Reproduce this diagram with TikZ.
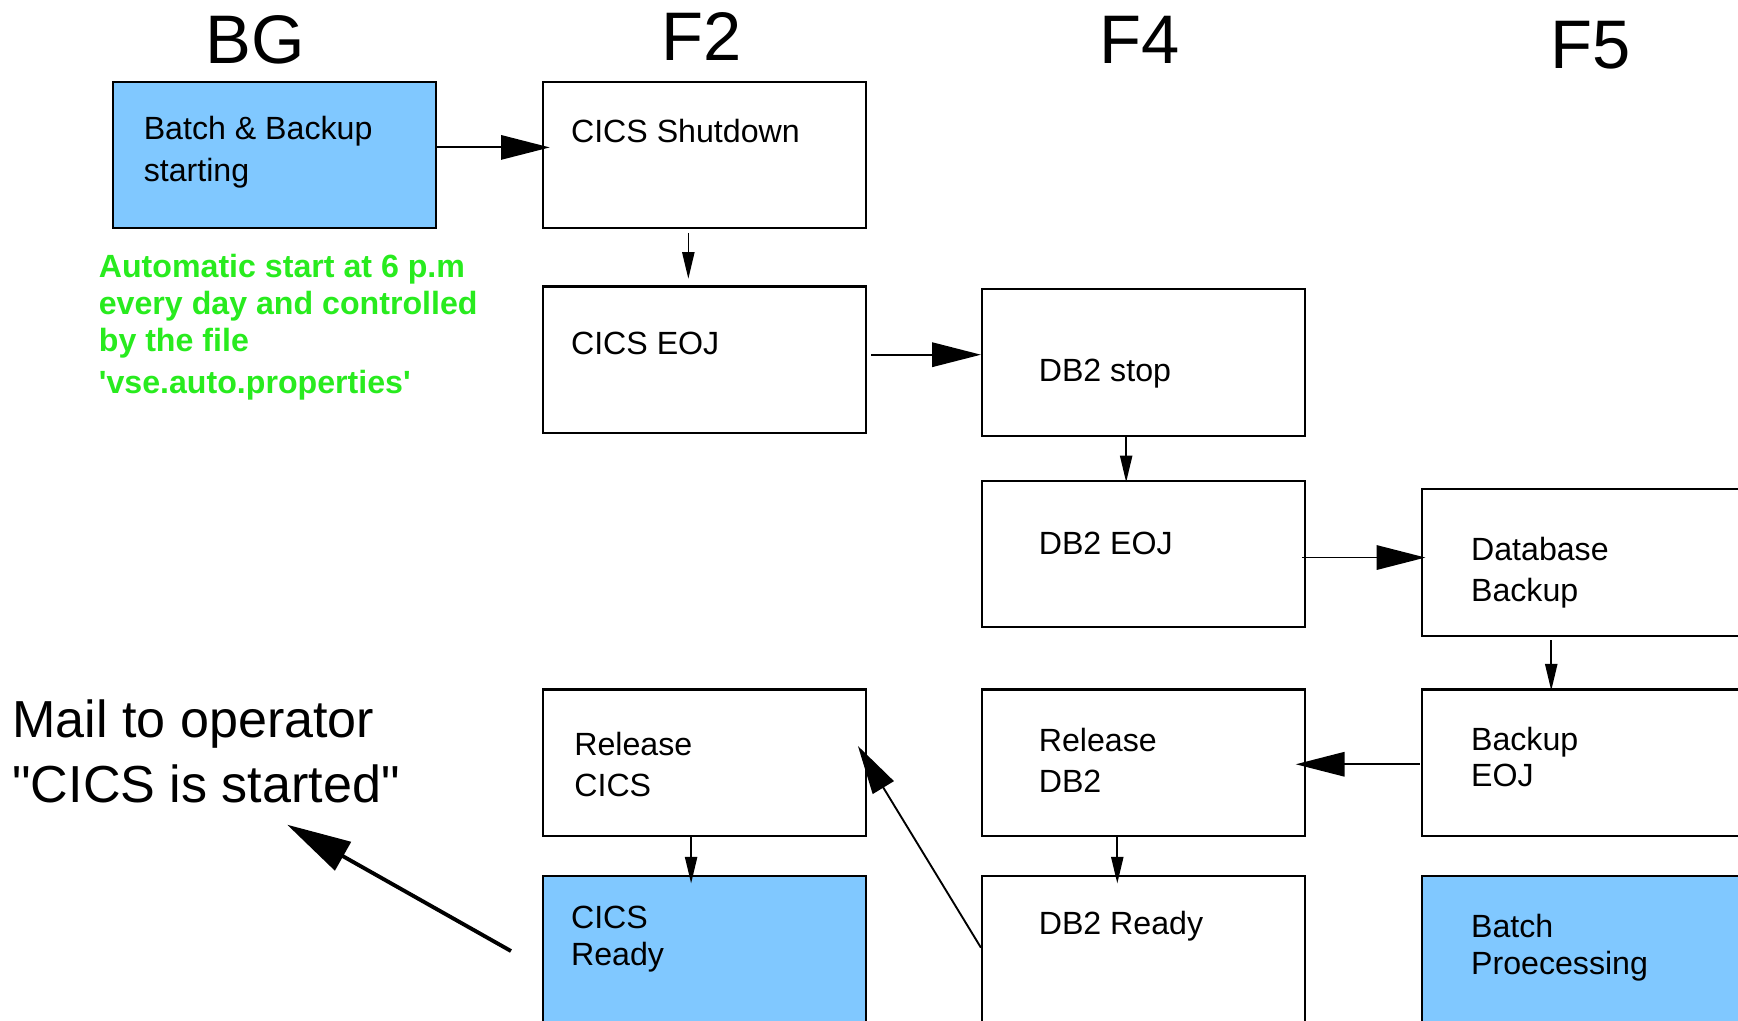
\documentclass[tikz,border=0pt]{standalone}
\usepackage{fontspec}
\setmainfont{Liberation Sans}[Ligatures=TeXOff]
\usetikzlibrary{arrows.meta}
\definecolor{boxblue}{RGB}{128,200,255}
\definecolor{autogreen}{RGB}{40,235,30}
\begin{document}
\begin{tikzpicture}[x=1pt,y=-1pt,
  box/.style={draw=black, line width=2pt, minimum width=291pt, minimum height=132pt, inner sep=0pt},
  bluebox/.style={box, fill=boxblue},
  tallbox/.style={minimum height=140pt},
  txt/.style={anchor=base west, inner sep=0pt, font=\fontsize{29}{36}\selectfont},
  greentxt/.style={anchor=base west, inner sep=0pt, text=autogreen, font=\fontsize{29}{36}\selectfont\bfseries},
  mailtxt/.style={anchor=base west, inner sep=0pt, font=\fontsize{47}{56}\selectfont},
  coltitle/.style={anchor=base, inner sep=0pt, font=\fontsize{62}{70}\selectfont},
  bigarr/.style={line width=1.7pt, -{Triangle[length=44pt,width=22pt]}},
  smallarr/.style={line width=1.5pt, -{Triangle[length=24pt,width=11pt]}},
  mailarr/.style={line width=3.5pt, -{Triangle[length=58pt,width=29pt]}}]
\useasboundingbox (0,0) rectangle (1568,921);
\clip (0,0) rectangle (1568,921);

% column titles
\node[coltitle] (tbg) at (230,57) {BG};
\node[coltitle] (tf2) at (633,55) {F2};
\node[coltitle] (tf4) at (1028,57) {F4};
\node[coltitle] (tf5) at (1435,62) {F5};

% boxes
\node[bluebox] (batch) at (247.5,140) {};
\node[box] (shut) at (635.5,140) {};
\node[box] (cicseoj) at (635.5,324.5) {};
\node[box] (db2stop) at (1031.5,327) {};
\node[box] (db2eoj) at (1031.5,500) {};
\node[box] (dbbackup) at (1428.5,507.5) {};
\node[box] (relcics) at (635.5,688) {};
\node[box] (reldb2) at (1031.5,688) {};
\node[box] (bkeoj) at (1428.5,688) {};
\node[bluebox, tallbox] (cicsready) at (635.5,860) {};
\node[box, tallbox] (db2ready) at (1031.5,860) {};
\node[bluebox, tallbox] (batchproc) at (1428.5,860) {};

% box texts
\node[txt] (batchA) at (129.5,126) {Batch \& Backup};
\node[txt] (batchB) at (129.5,164) {starting};
\node[txt] (shutA) at (515,129) {CICS Shutdown};
\node[txt] (cicseojA) at (515,320) {CICS EOJ};
\node[txt] (db2stopA) at (937,344) {DB2 stop};
\node[txt] (db2eojA) at (937,500) {DB2 EOJ};
\node[txt] (dbbackupA) at (1327,506) {Database};
\node[txt] (dbbackupB) at (1327,542.5) {Backup};
\node[txt] (relcicsA) at (518,682) {Release};
\node[txt] (relcicsB) at (518,718.5) {CICS};
\node[txt] (reldb2A) at (937,678) {Release};
\node[txt] (reldb2B) at (937,715) {DB2};
\node[txt] (bkeojA) at (1327,677) {Backup};
\node[txt] (bkeojB) at (1327,710) {EOJ};
\node[txt] (cicsreadyA) at (515,838) {CICS};
\node[txt] (cicsreadyB) at (515,871) {Ready};
\node[txt] (db2readyA) at (937,843.5) {DB2 Ready};
\node[txt] (batchprocA) at (1327,846) {Batch};
\node[txt] (batchprocB) at (1327,879) {Proecessing};

% green note
\node[greentxt] (autoA) at (89,250) {Automatic start at 6 p.m};
\node[greentxt] (autoB) at (89,283.5) {every day and controlled};
\node[greentxt] (autoC) at (89,317) {by the file};
\node[greentxt] (autoD) at (89,355) {'vse.auto.properties'};

% mail note
\node[mailtxt] (mailA) at (11,665) {Mail to operator};
\node[mailtxt] (mailB) at (11,724) {"CICS is started"};
\coordinate (mailtip) at (259,744);

% connectors
\draw[bigarr] ([yshift=7pt]batch.east) -- ([xshift=7pt,yshift=7pt]shut.west);
\draw[smallarr] ([xshift=-14.5pt,yshift=-3pt]shut.south) -- ([xshift=-14.5pt,yshift=6pt]cicseoj.north);
\draw[bigarr] ([xshift=4pt,yshift=4.5pt]cicseoj.east) -- ([yshift=7pt]db2stop.west);
\draw[smallarr] ([xshift=-15.5pt]db2stop.south) -- ([xshift=-15.5pt,yshift=-2pt]db2eoj.north);
\draw[bigarr] ([xshift=-3pt,yshift=-3pt]db2eoj.east) -- ([xshift=4pt,yshift=4.5pt]dbbackup.west);
\draw[smallarr] ([xshift=-29pt,yshift=-3pt]dbbackup.south) -- ([xshift=-29pt,yshift=-2pt]bkeoj.north);
\draw[bigarr] ([xshift=-1pt,yshift=-1.5pt]bkeoj.west) -- ([xshift=-9pt,yshift=-1.5pt]reldb2.east);
\draw[smallarr] ([xshift=-23.5pt]reldb2.south) -- ([xshift=-23.5pt,yshift=-8pt]db2ready.north);
\draw[smallarr] ([xshift=-12pt]relcics.south) -- ([xshift=-12pt,yshift=-8pt]cicsready.north);
\draw[bigarr] ([yshift=5pt]db2ready.west) -- ([xshift=-8pt,yshift=15pt]relcics.east);
\draw[mailarr] ([xshift=-28pt,yshift=2pt]cicsready.west) -- (mailtip);
\end{tikzpicture}
\end{document}
